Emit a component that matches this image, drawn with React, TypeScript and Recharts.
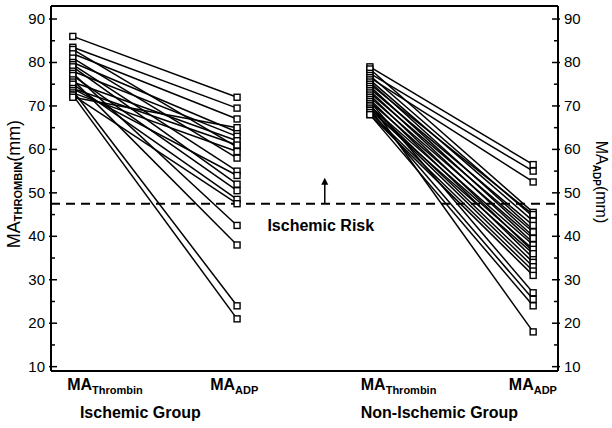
import React from "react";
import {
  LineChart,
  Line,
  XAxis,
  YAxis,
  ReferenceLine,
} from "recharts";

// category positions on the 0–100 horizontal scale
const X_ISCH_THROMBIN = 4.3;
const X_ISCH_ADP = 36.7;
const X_NON_THROMBIN = 62.9;
const X_NON_ADP = 95.1;

// Ischemic group, paired values (mm)
const ischThrombin = [86, 83.5, 83, 82, 81, 80, 79.5, 79, 78, 77.5, 77, 76, 75.5, 75, 74, 74, 73.5, 73, 72.5, 72.5, 72];
const ischAdp = [72, 69.5, 60.5, 67, 58, 64, 55, 52, 63, 42.5, 50.5, 38, 62, 48.5, 61, 54, 24, 59.5, 47.5, 21, 65];

// Non-ischemic group, paired values (mm)
const nonThrombin = [79, 78.5, 77.5, 77, 76.5, 76, 75.5, 75, 74.5, 74, 73.5, 73, 72.5, 72, 71.5, 71, 71, 70.5, 70, 70, 69.5, 69, 69, 68.5, 68, 68];
const nonAdp = [56.5, 45.5, 55, 44.5, 52.5, 43.5, 41.5, 45, 40, 42.5, 38.5, 41, 36.5, 39.5, 35, 27, 38, 18, 34, 37, 33, 25.5, 36, 32, 31, 24];

const yTicks = [10, 15, 20, 25, 30, 35, 40, 45, 50, 55, 60, 65, 70, 75, 80, 85, 90];
const xLabelPos = [3.2, 31.4, 61.1, 90.3];
const xLabelSub = ["Thrombin", "ADP", "Thrombin", "ADP"];
const groupPos = [5.7, 61.1];
const groupNames = ["Ischemic Group", "Non-Ischemic Group"];

const RISK_LEVEL = 47.5;
const ARROW_X = 54;
const ARROW_TOP = 53.5;

const FONT = "Liberation Sans, Arial, sans-serif";

const pairs = [
  ...ischThrombin.map((t, i) => [
    { x: X_ISCH_THROMBIN, y: t },
    { x: X_ISCH_ADP, y: ischAdp[i] },
  ]),
  ...nonThrombin.map((t, i) => [
    { x: X_NON_THROMBIN, y: t },
    { x: X_NON_ADP, y: nonAdp[i] },
  ]),
];

// keeps the right axis and the group axis alive (no visible mark)
const axisAnchor = [
  { x: 0, y: 9 },
  { x: 100, y: 93 },
];

const SquareDot = (props: any) => {
  const { cx, cy, index } = props;
  if (cx == null || cy == null) return <g key={index} />;
  return (
    <rect
      key={index}
      x={cx - 3}
      y={cy - 3}
      width={6}
      height={6}
      fill="#fff"
      stroke="#000"
      strokeWidth={1.4}
    />
  );
};

const LeftTick = ({ x, y, payload }: any) => {
  const major = payload.value % 10 === 0;
  return (
    <g>
      <line x1={major ? x - 2 : x} x2={x + (major ? 6 : 4)} y1={y} y2={y} stroke="#000" strokeWidth={1.5} />
      {major && (
        <text x={x - 6} y={y} dy={5} textAnchor="end" fontSize={15} fontFamily={FONT} fill="#000">
          {payload.value}
        </text>
      )}
    </g>
  );
};

const RightTick = ({ x, y, payload }: any) => {
  const major = payload.value % 10 === 0;
  return (
    <g>
      <line x1={x - (major ? 6 : 4)} x2={major ? x + 2 : x} y1={y} y2={y} stroke="#000" strokeWidth={1.5} />
      {major && (
        <text x={x + 6} y={y} dy={5} textAnchor="start" fontSize={15} fontFamily={FONT} fill="#000">
          {payload.value}
        </text>
      )}
    </g>
  );
};

const BottomTick = ({ x, y, index }: any) => (
  <text x={x} y={y + 19} textAnchor="start" fontSize={16} fontWeight="bold" fontFamily={FONT} fill="#000">
    MA
    <tspan fontSize={11} dy={4}>
      {xLabelSub[index]}
    </tspan>
  </text>
);

const GroupTick = ({ x, y, index }: any) => (
  <text x={x} y={y + 20} textAnchor="start" fontSize={16} fontWeight="bold" fontFamily={FONT} fill="#000">
    {groupNames[index]}
  </text>
);

const RiskArrow = (props: any) => {
  const { x1, y1, x2, y2 } = props;
  const bottom = Math.max(y1, y2);
  const top = Math.min(y1, y2);
  return (
    <g>
      <line x1={x1} x2={x2} y1={bottom} y2={top + 4} stroke="#000" strokeWidth={1.5} />
      <path d={`M${x1 - 3.5},${top + 7} L${x1},${top} L${x1 + 3.5},${top + 7} Z`} fill="#000" />
      <text x={x1 - 4} y={bottom + 27} textAnchor="middle" fontSize={16} fontWeight="bold" fontFamily={FONT} fill="#000">
        Ischemic Risk
      </text>
    </g>
  );
};

export default function App() {
  return (
    <div style={{ position: "absolute", left: 0, top: 0, background: "#fff" }}>
      <LineChart
        width={612}
        height={428}
        margin={{ top: 6, right: 0, bottom: 0, left: 0 }}
        style={{ fontFamily: FONT }}
      >
        <XAxis
          xAxisId={0}
          type="number"
          dataKey="x"
          domain={[0, 100]}
          ticks={xLabelPos}
          tick={<BottomTick />}
          tickSize={0}
          tickMargin={0}
          height={27}
          axisLine={{ stroke: "#000", strokeWidth: 2 }}
          interval={0}
        />
        <XAxis
          xAxisId="group"
          type="number"
          dataKey="x"
          domain={[0, 100]}
          ticks={groupPos}
          tick={<GroupTick />}
          tickSize={0}
          tickMargin={0}
          height={30}
          axisLine={false}
          interval={0}
        />
        <YAxis
          yAxisId="left"
          type="number"
          domain={[9, 93]}
          ticks={yTicks}
          tick={<LeftTick />}
          tickSize={0}
          tickMargin={0}
          width={51}
          interval={0}
          axisLine={{ stroke: "#000", strokeWidth: 2 }}
          label={{
            content: (p: any) => {
              const vx = (p.viewBox?.x ?? 0) + 15;
              const vy = 184;
              return (
                <text
                  x={vx}
                  y={vy}
                  transform={`rotate(-90 ${vx} ${vy})`}
                  textAnchor="middle"
                  dominantBaseline="middle"
                  fontSize={18}
                  fontFamily={FONT}
                  fill="#000"
                >
                  MA
                  <tspan fontSize={11} fontWeight="bold" dy={4}>THROMBIN</tspan>
                  <tspan dy={-4}>(mm)</tspan>
                </text>
              );
            },
          }}
        />
        <YAxis
          yAxisId="right"
          orientation="right"
          type="number"
          domain={[9, 93]}
          ticks={yTicks}
          tick={<RightTick />}
          tickSize={0}
          tickMargin={0}
          width={54}
          interval={0}
          axisLine={{ stroke: "#000", strokeWidth: 2 }}
          label={{
            content: (p: any) => {
              const vx = (p.viewBox?.x ?? 558) + 42;
              const vy = 182;
              return (
                <text
                  x={vx}
                  y={vy}
                  transform={`rotate(90 ${vx} ${vy})`}
                  textAnchor="middle"
                  dominantBaseline="middle"
                  fontSize={16}
                  fontFamily={FONT}
                  fill="#000"
                >
                  MA
                  <tspan fontSize={10} fontWeight="bold" dy={4}>ADP</tspan>
                  <tspan dy={-4}>(mm)</tspan>
                </text>
              );
            },
          }}
        />
        <ReferenceLine yAxisId="left" y={93} stroke="#000" strokeWidth={2} />
        <ReferenceLine
          yAxisId="left"
          y={RISK_LEVEL}
          stroke="#000"
          strokeWidth={2}
          strokeDasharray="9 6"
        />
        <ReferenceLine
          yAxisId="left"
          segment={[
            { x: ARROW_X, y: RISK_LEVEL },
            { x: ARROW_X, y: ARROW_TOP },
          ]}
          shape={<RiskArrow />}
        />
        <Line
          xAxisId="group"
          yAxisId="right"
          data={axisAnchor}
          dataKey="y"
          stroke="none"
          dot={false}
          activeDot={false}
          legendType="none"
          isAnimationActive={false}
        />
        {pairs.map((d, i) => (
          <Line
            key={i}
            yAxisId="left"
            data={d}
            dataKey="y"
            type="linear"
            stroke="#000"
            strokeWidth={1.5}
            dot={<SquareDot />}
            activeDot={false}
            isAnimationActive={false}
          />
        ))}
      </LineChart>
    </div>
  );
}
